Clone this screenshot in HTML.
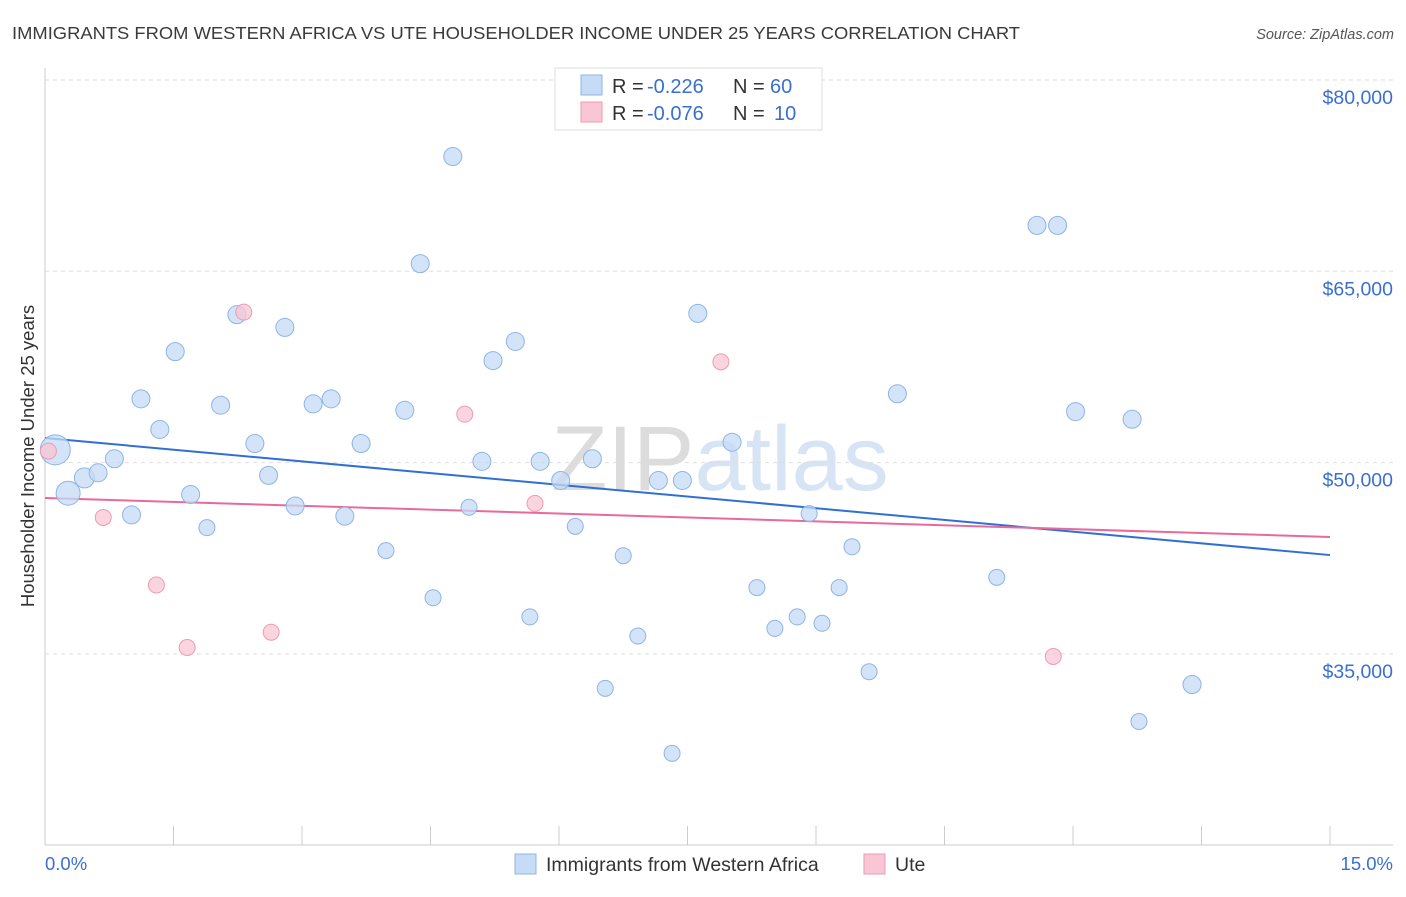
<!DOCTYPE html>
<html><head><meta charset="utf-8"><style>
body{margin:0;background:#fff;font-family:"Liberation Sans",sans-serif;}
svg text{font-family:"Liberation Sans",sans-serif;}
</style></head><body>
<svg id="c" width="1406" height="892" viewBox="0 0 1406 892" xmlns="http://www.w3.org/2000/svg">
<text x="12" y="39" font-size="17.5" fill="#3a3a3a" textLength="1008" lengthAdjust="spacingAndGlyphs">IMMIGRANTS FROM WESTERN AFRICA VS UTE HOUSEHOLDER INCOME UNDER 25 YEARS CORRELATION CHART</text>
<text x="1394" y="39" font-size="14.5" fill="#555" text-anchor="end" font-style="italic">Source: ZipAtlas.com</text>
<text x="720" y="490" font-size="92" fill="#e6e6e6" text-anchor="middle" font-family="Liberation Serif"><tspan fill="#dcdcdc">ZIP</tspan><tspan fill="#d6e4f5" font-family="Liberation Sans">atlas</tspan></text>
<text transform="translate(34,456) rotate(-90)" font-size="18.5" fill="#333" text-anchor="middle">Householder Income Under 25 years</text>
<g id="grid"></g><g id="ticks"></g><g id="trend"></g><g id="pts"></g>
<g>
<rect x="555" y="68" width="267" height="62" fill="#fff" stroke="#ddd"/>
<rect x="581" y="75" width="21" height="20" fill="#c6dbf5" stroke="#8db4e8"/>
<rect x="581" y="102" width="21" height="20" fill="#f8c6d4" stroke="#ee9ab5"/>
<text x="612" y="93" font-size="20" fill="#333">R =</text>
<text x="647" y="93" font-size="20" fill="#3a6fd0">-0.226</text>
<text x="733" y="93" font-size="20" fill="#333">N =</text>
<text x="770" y="93" font-size="20" fill="#3a6fd0">60</text>
<text x="612" y="120" font-size="20" fill="#333">R =</text>
<text x="647" y="120" font-size="20" fill="#3a6fd0">-0.076</text>
<text x="733" y="120" font-size="20" fill="#333">N =</text>
<text x="774" y="120" font-size="20" fill="#3a6fd0">10</text>
</g>
<g>
<rect x="515" y="854" width="21" height="20" fill="#c6dbf5" stroke="#8db4e8"/>
<text x="546" y="871" font-size="19.5" fill="#333">Immigrants from Western Africa</text>
<rect x="864" y="854" width="21" height="20" fill="#f8c6d4" stroke="#ee9ab5"/>
<text x="895" y="871" font-size="19.5" fill="#333">Ute</text>
</g>
<text x="45" y="870" font-size="18.5" fill="#3a6fd0">0.0%</text>
<text x="1393" y="870" font-size="18.5" fill="#3a6fd0" text-anchor="end">15.0%</text>
</svg>
<script>
const blueX=[0.12,0.27,0.46,0.62,0.81,1.01,1.12,1.34,1.52,1.70,1.89,2.05,2.24,2.45,2.61,2.80,2.92,3.13,3.34,3.50,3.69,3.98,4.20,4.38,4.53,4.76,4.95,5.10,5.23,5.49,5.66,5.78,6.02,6.19,6.39,6.54,6.75,6.92,7.16,7.44,7.62,8.02,8.31,8.52,8.78,8.92,9.07,9.27,9.42,9.62,9.95,11.11,11.58,11.82,12.03,12.69,12.77,13.39,7.32];
const blueY=[51000,47600,48800,49200,50300,45900,55000,52600,58700,47500,44900,54500,61600,51500,49000,60600,46600,54600,55000,45800,51500,43100,54100,65600,39400,74000,46500,50100,58000,59500,37900,50100,48600,45000,50300,32300,42700,36400,48600,48600,61700,51600,40200,37000,37900,46000,37400,40200,43400,33600,55400,41000,68600,68600,54000,53400,29700,32600,27200];
const blueR=[15,12,10,9,9,9,9,9,9,9,8,9,9,9,9,9,9,9,9,9,9,8,9,9,8,9,8,9,9,9,8,9,9,8,9,8,8,8,9,9,9,9,8,8,8,8,8,8,8,8,9,8,9,9,9,9,8,9,8];
const pinkX=[0.04,0.68,1.30,1.66,2.32,2.64,4.90,5.72,7.89,11.77];
const pinkY=[50900,45700,40400,35500,61800,36700,53800,46800,57900,34800];
const yTicks=[35000,50000,65000,80000];
const yTickLabels=["$35,000","$50,000","$65,000","$80,000"];
const xTicks=[0,1.5,3,4.5,6,7.5,9,10.5,12,13.5,15];
const blueTrend=[51930,42750];
const pinkTrend=[47225,44170];
const NS="http://www.w3.org/2000/svg";
const X=v=>45+v/15*1285, Y=v=>80+(80000-v)/15000*191.3;
function mk(t,a,p){const e=document.createElementNS(NS,t);for(const k in a)e.setAttribute(k,a[k]);document.getElementById(p).appendChild(e);return e;}
yTicks.forEach((t,i)=>{
 const l=mk('line',{x1:45,x2:1393,y1:Y(t),y2:Y(t),stroke:'#ddd','stroke-dasharray':'4,4'},'grid');
 
 
 const tx=mk('text',{x:1393,y:Y(t)+24,'font-size':19.5,fill:'#3a6fd0','text-anchor':'end'},'grid');
 tx.textContent=yTickLabels[i];
 
 
});
mk('line',{x1:45,x2:45,y1:68,y2:845,stroke:'#ccc'},'ticks');
mk('line',{x1:45,x2:1393,y1:845,y2:845,stroke:'#ccc'},'ticks');
xTicks.forEach(t=>{
 const l=mk('line',{x1:X(t),x2:X(t),y1:826,y2:845,stroke:'#ccc'},'ticks');
 
 
});
const bl=mk('line',{x1:X(0),x2:X(15),y1:Y(blueTrend[0]),y2:Y(blueTrend[1]),stroke:'#2f6fd6','stroke-width':2},'trend');


const pl=mk('line',{x1:X(0),x2:X(15),y1:Y(pinkTrend[0]),y2:Y(pinkTrend[1]),stroke:'#e8699a','stroke-width':2},'trend');


blueX.forEach((x,i)=>{
 const c=mk('circle',{cx:X(x),cy:Y(blueY[i]),r:blueR[i],fill:'#c6dbf5','fill-opacity':0.75,stroke:'#8db4e8','stroke-width':1},'pts');
 
 
});
pinkX.forEach((x,i)=>{
 const c=mk('circle',{cx:X(x),cy:Y(pinkY[i]),r:8,fill:'#f8c6d4','fill-opacity':0.75,stroke:'#ee9ab5','stroke-width':1},'pts');
 
 
});
</script>
</body></html>
